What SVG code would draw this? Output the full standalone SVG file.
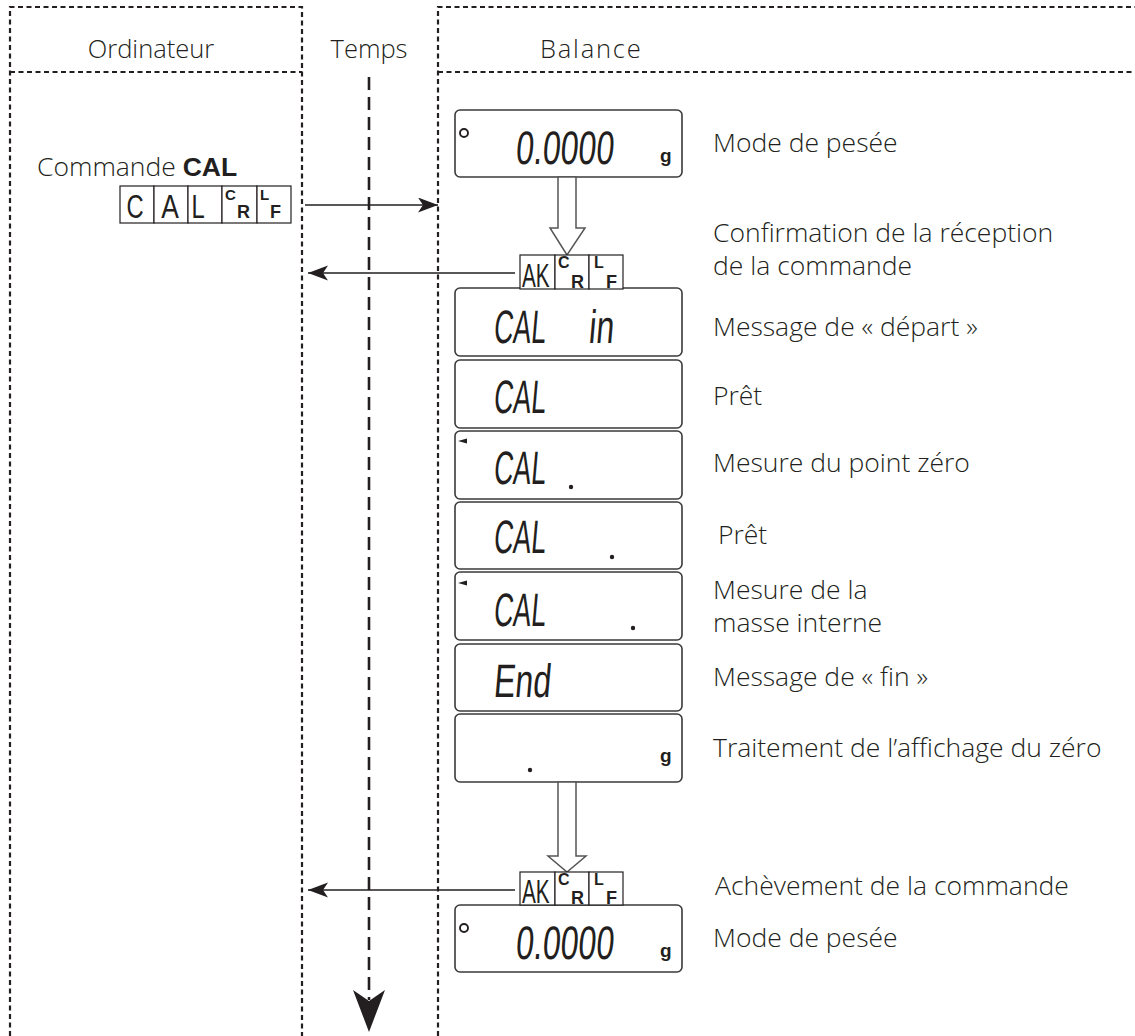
<svg xmlns="http://www.w3.org/2000/svg" width="1135" height="1036" viewBox="0 0 1135 1036">
<style>
.lane{fill:none;stroke:#231f20;stroke-width:2.2;stroke-dasharray:5 3.5}
.t{font-family:"Open Sans","DejaVu Sans","Liberation Sans",sans-serif;font-weight:300;font-size:26.5px;fill:#231f20}
.h{font-size:25.5px}
.lcdbox{fill:#fff;stroke:#3a3a3a;stroke-width:1.6}
.lcd{font-family:"Liberation Sans",Arial,sans-serif;font-size:47px;fill:#231f20}
.g{font-family:"Liberation Sans",Arial,sans-serif;font-weight:bold;font-size:19px;fill:#231f20}
.cell{fill:#fff;stroke:#231f20;stroke-width:1.2}
.big{font-family:"Liberation Sans",Arial,sans-serif;font-size:33px;fill:#231f20}
.sb{font-family:"Liberation Sans",Arial,sans-serif;font-weight:bold;fill:#231f20}
.wire{fill:none;stroke:#231f20;stroke-width:1.5}
.hollow{fill:#fff;stroke:#555;stroke-width:1.5}
.dot{fill:#231f20}
.ring{fill:none;stroke:#231f20;stroke-width:1.9}
</style>
<defs>
<marker id="ah" markerUnits="userSpaceOnUse" markerWidth="22" markerHeight="16" refX="20" refY="7.5" orient="auto" viewBox="0 0 22 16"><path d="M0,0 L20,7.5 L0,15 L5,7.5 z" fill="#231f20"/></marker>
</defs>
<rect width="1135" height="1036" fill="#fff"/>
<g id="lanes">
<path class="lane" d="M10,1036 V7 H302 V1036 M10,72 H302"/>
<path class="lane" d="M438,1036 V7 H1135 M438,72 H1135"/>
<text class="t h" x="151" y="58" text-anchor="middle">Ordinateur</text>
<text class="t h" x="369" y="58" text-anchor="middle">Temps</text>
<text class="t h" x="540" y="58" letter-spacing="1.8">Balance</text>
</g>
<g id="connectors">
<line x1="369" y1="77" x2="369" y2="1000" stroke="#231f20" stroke-width="2.6" stroke-dasharray="13 7"/>
<polygon points="353,990 369,1032 385,990 369,1001" fill="#231f20"/>
<line class="wire" x1="305" y1="205" x2="438" y2="205" marker-end="url(#ah)"/>
<line class="wire" x1="515" y1="273" x2="308" y2="273" marker-end="url(#ah)"/>
<line class="wire" x1="515" y1="890" x2="308" y2="890" marker-end="url(#ah)"/>
</g>
<g id="command">
<text class="t" x="37" y="176">Commande <tspan font-weight="bold" font-family="Liberation Sans, Arial, sans-serif">CAL</tspan></text>
<rect class="cell" x="120" y="186" width="34" height="37"/>
<rect class="cell" x="154" y="186" width="34" height="37"/>
<rect class="cell" x="188" y="186" width="34" height="37"/>
<rect class="cell" x="222" y="186" width="35" height="37"/>
<rect class="cell" x="257" y="186" width="34" height="37"/>
<text class="big" text-anchor="middle" transform="translate(135,218) scale(0.72,1)">C</text>
<text class="big" text-anchor="middle" transform="translate(170,218) scale(0.8,1)">A</text>
<text class="big" text-anchor="middle" transform="translate(198,218) scale(0.72,1)">L</text>
<text class="sb" x="225" y="200" font-size="15">C</text>
<text class="sb" x="237" y="218" font-size="18">R</text>
<text class="sb" x="260" y="200" font-size="15">L</text>
<text class="sb" x="270" y="218" font-size="18">F</text>
</g>
<g id="state-weigh1">
<rect class="lcdbox" x="455" y="110" width="227" height="67" rx="5"/>
<circle class="ring" cx="464" cy="133" r="4"/>
<text class="lcd" font-size="48" transform="translate(515,164) skewX(-5)" textLength="98" lengthAdjust="spacingAndGlyphs">0.0000</text>
<text class="g" x="660" y="162">g</text>
<text class="t" x="713" y="152">Mode de pesée</text>
</g>
<polygon id="flow1" class="hollow" points="558,177 576,177 576,228 585,228 567,255 550,228 558,228"/>
<g id="state-start">
<rect class="lcdbox" x="455" y="288" width="227" height="68" rx="5"/>
<text class="lcd" transform="translate(493,343) skewX(-5)" textLength="52" lengthAdjust="spacingAndGlyphs">CAL</text>
<text class="lcd" font-size="34" transform="translate(588,343) skewX(-5)" textLength="25" lengthAdjust="spacingAndGlyphs">in</text>
<text class="t" x="713" y="336">Message de « départ »</text>
</g>
<g id="ack1">
<rect class="cell" x="520" y="255" width="35" height="34"/>
<rect class="cell" x="555" y="255" width="34" height="34"/>
<rect class="cell" x="589" y="255" width="34" height="34"/>
<text class="big" font-size="36" transform="translate(522,287) scale(0.63,1)">AK</text>
<text class="sb" x="558" y="268" font-size="16">C</text>
<text class="sb" x="571" y="288" font-size="18">R</text>
<text class="sb" x="594" y="268" font-size="16">L</text>
<text class="sb" x="606" y="288" font-size="18">F</text>
<text class="t" x="713" y="242">Confirmation de la réception</text>
<text class="t" x="713" y="275">de la commande</text>
</g>
<g id="state-ready1">
<rect class="lcdbox" x="455" y="360" width="227" height="68" rx="5"/>
<text class="lcd" transform="translate(493,413) skewX(-5)" textLength="52" lengthAdjust="spacingAndGlyphs">CAL</text>
<text class="t" x="713" y="405">Prêt</text>
</g>
<g id="state-zero">
<rect class="lcdbox" x="455" y="431" width="227" height="68" rx="5"/>
<polygon class="dot" points="458,441 467,438.5 467,443.5"/>
<text class="lcd" transform="translate(493,484) skewX(-5)" textLength="52" lengthAdjust="spacingAndGlyphs">CAL</text>
<circle class="dot" cx="571" cy="487" r="2.2"/>
<text class="t" x="713" y="472">Mesure du point zéro</text>
</g>
<g id="state-ready2">
<rect class="lcdbox" x="455" y="502" width="227" height="67" rx="5"/>
<text class="lcd" transform="translate(493,553) skewX(-5)" textLength="52" lengthAdjust="spacingAndGlyphs">CAL</text>
<circle class="dot" cx="612" cy="557" r="2.2"/>
<text class="t" x="718" y="544">Prêt</text>
</g>
<g id="state-mass">
<rect class="lcdbox" x="455" y="572" width="227" height="68" rx="5"/>
<polygon class="dot" points="458,583 467,580.5 467,585.5"/>
<text class="lcd" transform="translate(493,626) skewX(-5)" textLength="52" lengthAdjust="spacingAndGlyphs">CAL</text>
<circle class="dot" cx="633" cy="628" r="2.2"/>
<text class="t" x="713" y="599">Mesure de la</text>
<text class="t" x="713" y="632">masse interne</text>
</g>
<g id="state-end">
<rect class="lcdbox" x="455" y="644" width="227" height="67" rx="5"/>
<text class="lcd" transform="translate(493,697) skewX(-5)" textLength="57" lengthAdjust="spacingAndGlyphs">End</text>
<text class="t" x="713" y="686">Message de « fin »</text>
</g>
<g id="state-zerodisp">
<rect class="lcdbox" x="455" y="714" width="227" height="68" rx="5"/>
<circle class="dot" cx="530" cy="770" r="2.2"/>
<text class="g" x="660" y="762">g</text>
<text class="t" x="713" y="757">Traitement de l’affichage du zéro</text>
</g>
<polygon id="flow2" class="hollow" points="558,782 576,782 576,856 586,856 567,872 548,856 558,856"/>
<g id="state-weigh2">
<rect class="lcdbox" x="455" y="905" width="227" height="67" rx="5"/>
<circle class="ring" cx="464" cy="928" r="4"/>
<text class="lcd" font-size="48" transform="translate(515,959) skewX(-5)" textLength="98" lengthAdjust="spacingAndGlyphs">0.0000</text>
<text class="g" x="660" y="957">g</text>
<text class="t" x="713" y="947">Mode de pesée</text>
</g>
<g id="ack2">
<rect class="cell" x="520" y="872" width="35" height="33"/>
<rect class="cell" x="555" y="872" width="34" height="33"/>
<rect class="cell" x="589" y="872" width="34" height="33"/>
<text class="big" font-size="36" transform="translate(522,903) scale(0.63,1)">AK</text>
<text class="sb" x="558" y="885" font-size="16">C</text>
<text class="sb" x="571" y="904" font-size="18">R</text>
<text class="sb" x="594" y="885" font-size="16">L</text>
<text class="sb" x="606" y="904" font-size="18">F</text>
<text class="t" x="715" y="895">Achèvement de la commande</text>
</g>
</svg>
